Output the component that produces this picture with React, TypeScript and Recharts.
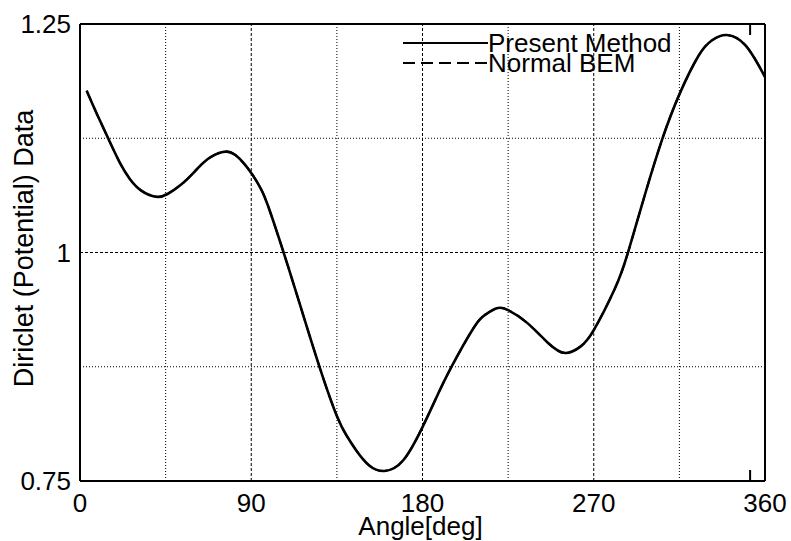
import { LineChart, Line, XAxis, YAxis, ReferenceLine, Legend, Label } from "recharts";

const angles = [3.5, 9, 15, 21, 26, 32, 40, 46, 53, 60, 67, 75, 82, 90, 95, 99, 107, 115, 126, 135, 140, 145, 152, 160, 170, 180, 187, 195, 207, 213, 219, 225, 235, 246, 255, 263, 270, 281, 288, 297, 306, 315, 325, 332, 340, 350, 360];
const presentMethod = [1.177, 1.151, 1.124, 1.098, 1.081, 1.068, 1.061, 1.064, 1.074, 1.088, 1.102, 1.11, 1.106, 1.087, 1.07, 1.05, 1.0, 0.947, 0.874, 0.821, 0.8, 0.784, 0.767, 0.761, 0.773, 0.809, 0.84, 0.874, 0.918, 0.932, 0.939, 0.937, 0.923, 0.901, 0.89, 0.897, 0.915, 0.96, 1.0, 1.064, 1.124, 1.173, 1.215, 1.232, 1.238, 1.226, 1.192];
// the dashed curve lies exactly under the solid one in the picture
const normalBem = [1.177, 1.151, 1.124, 1.098, 1.081, 1.068, 1.061, 1.064, 1.074, 1.088, 1.102, 1.11, 1.106, 1.087, 1.07, 1.05, 1.0, 0.947, 0.874, 0.821, 0.8, 0.784, 0.767, 0.761, 0.773, 0.809, 0.84, 0.874, 0.918, 0.932, 0.939, 0.937, 0.923, 0.901, 0.89, 0.897, 0.915, 0.96, 1.0, 1.064, 1.124, 1.173, 1.215, 1.232, 1.238, 1.226, 1.192];

const xTicks = [0, 45, 90, 135, 180, 225, 270, 315, 360];
const xLabeled = [0, 90, 180, 270, 360];
const xMinor = [45, 135, 225, 315];
const yTicks = [0.75, 0.875, 1, 1.125, 1.25];
const yLabeled = [0.75, 1, 1.25];
const yMinor = [0.875, 1.125];

const series = [
  { key: "present", name: "Present Method", dash: undefined as string | undefined, width: 2.6 },
  { key: "bem", name: "Normal BEM", dash: "12 6", width: 2 },
];

const data = angles.map((a, i) => ({ angle: a, present: presentMethod[i], bem: normalBem[i] }));

const X0 = 0, X1 = 360, Y0 = 0.75, Y1 = 1.25;
const font = "'Liberation Sans', Arial, sans-serif";
const axisLine = { stroke: "#000", strokeWidth: 2 };
const tickLine = { stroke: "#000", strokeWidth: 2 };
const noLabel = () => <g />;

const BottomTick = (props: any) => {
  const { x, y, payload } = props;
  if (!xLabeled.includes(payload.value)) return <g />;
  return (
    <text x={x} y={y + 31} textAnchor="middle" fontSize={26} fontFamily={font} fill="#000">
      {payload.value}
    </text>
  );
};

const LeftTick = (props: any) => {
  const { x, y, payload } = props;
  if (!yLabeled.includes(payload.value)) return <g />;
  return (
    <text x={x - 9} y={y + 9} textAnchor="end" fontSize={26} fontFamily={font} fill="#000">
      {payload.value}
    </text>
  );
};

const renderLegend = (props: any) => {
  const items = series.filter((s) => (props.payload || []).some((p: any) => p.value === s.name));
  return (
    <div style={{ fontFamily: font, fontSize: 26, lineHeight: "20px", color: "#000" }}>
      {items.map((s) => (
        <div key={s.name} style={{ display: "flex", alignItems: "center", height: 20, whiteSpace: "nowrap" }}>
          <svg width={85} height={20} style={{ display: "block" }}>
            <line x1={0} y1={10} x2={85} y2={10} stroke="#000" strokeWidth={2} strokeDasharray={s.dash} />
          </svg>
          <span>{s.name}</span>
        </div>
      ))}
    </div>
  );
};

// inward tick marks: mirrored 1px axes on each side of the box
const xTickAxes = [
  { id: "bMaj", orientation: "bottom", ticks: xLabeled, size: 19 },
  { id: "bMin", orientation: "bottom", ticks: xMinor, size: 10 },
  { id: "tMaj", orientation: "top", ticks: xLabeled, size: 19 },
  { id: "tMin", orientation: "top", ticks: xMinor, size: 10 },
];
const yTickAxes = [
  { id: "lMaj", orientation: "left", ticks: yLabeled, size: 19 },
  { id: "lMin", orientation: "left", ticks: yMinor, size: 10 },
  { id: "rMaj", orientation: "right", ticks: yLabeled, size: 19 },
  { id: "rMin", orientation: "right", ticks: yMinor, size: 10 },
];

export default function App() {
  return (
    <div style={{ position: "absolute", left: 0, top: 0, background: "#fff" }}>
      <LineChart width={791} height={541} data={data} margin={{ top: 23, right: 25, bottom: 0, left: 0 }}>
        <XAxis
          xAxisId="b"
          dataKey="angle"
          type="number"
          domain={[X0, X1]}
          ticks={xTicks}
          interval={0}
          height={60}
          tickSize={0}
          tickMargin={0}
          tickLine={false}
          tick={BottomTick}
          axisLine={axisLine}
        >
          <Label
            content={(p: any) => {
              const vb = p.viewBox;
              return (
                <text x={vb.x + vb.width / 2 - 2} y={vb.y + 54} textAnchor="middle" fontSize={26} fontFamily={font} fill="#000">
                  Angle[deg]
                </text>
              );
            }}
          />
        </XAxis>
        <XAxis
          xAxisId="t"
          orientation="top"
          type="number"
          domain={[X0, X1]}
          height={1}
          tick={false}
          tickLine={false}
          axisLine={axisLine}
        />
        {xTickAxes.map((a) => (
          <XAxis
            key={a.id}
            xAxisId={a.id}
            orientation={a.orientation as any}
            mirror
            type="number"
            domain={[X0, X1]}
            ticks={a.ticks}
            interval={0}
            height={1}
            tickSize={a.size}
            tickMargin={0}
            tickLine={tickLine}
            tick={noLabel}
            axisLine={false}
          />
        ))}
        <YAxis
          yAxisId="l"
          type="number"
          domain={[Y0, Y1]}
          ticks={yTicks}
          interval={0}
          width={80}
          tickSize={0}
          tickMargin={0}
          tickLine={false}
          tick={LeftTick}
          axisLine={axisLine}
        >
          <Label
            content={(p: any) => {
              const vb = p.viewBox;
              const cx = vb.x + 33;
              const cy = vb.y + vb.height / 2 - 4;
              return (
                <text x={cx} y={cy} transform={`rotate(-90 ${cx} ${cy})`} textAnchor="middle" fontSize={27} fontFamily={font} fill="#000">
                  Diriclet (Potential) Data
                </text>
              );
            }}
          />
        </YAxis>
        <YAxis
          yAxisId="r"
          orientation="right"
          type="number"
          domain={[Y0, Y1]}
          width={1}
          tick={false}
          tickLine={false}
          axisLine={axisLine}
        />
        {yTickAxes.map((a) => (
          <YAxis
            key={a.id}
            yAxisId={a.id}
            orientation={a.orientation as any}
            mirror
            type="number"
            domain={[Y0, Y1]}
            ticks={a.ticks}
            interval={0}
            width={1}
            tickSize={a.size}
            tickMargin={0}
            tickLine={tickLine}
            tick={noLabel}
            axisLine={false}
          />
        ))}
        {xTicks
          .filter((v) => v > X0 && v < X1)
          .map((v) => (
            <ReferenceLine
              key={`gx${v}`}
              xAxisId="b"
              yAxisId="l"
              x={v}
              stroke="#000"
              strokeWidth={1}
              strokeDasharray={xLabeled.includes(v) ? "3 2" : "1 2"}
            />
          ))}
        {yTicks
          .filter((v) => v > Y0 && v < Y1)
          .map((v) => (
            <ReferenceLine
              key={`gy${v}`}
              xAxisId="b"
              yAxisId="l"
              y={v}
              stroke="#000"
              strokeWidth={1}
              strokeDasharray={yLabeled.includes(v) ? "3 2" : "1 2"}
            />
          ))}
        {series.map((s) => (
          <Line
            key={s.key}
            xAxisId="b"
            yAxisId="l"
            dataKey={s.key}
            name={s.name}
            type="natural"
            stroke="#000"
            strokeWidth={s.width}
            strokeDasharray={s.dash}
            dot={false}
            activeDot={false}
            isAnimationActive={false}
          />
        ))}
        <Legend
          layout="vertical"
          align="center"
          verticalAlign="middle"
          content={renderLegend}
          wrapperStyle={{ top: 33, left: 403, width: "auto", height: "auto" }}
        />
      </LineChart>
    </div>
  );
}
